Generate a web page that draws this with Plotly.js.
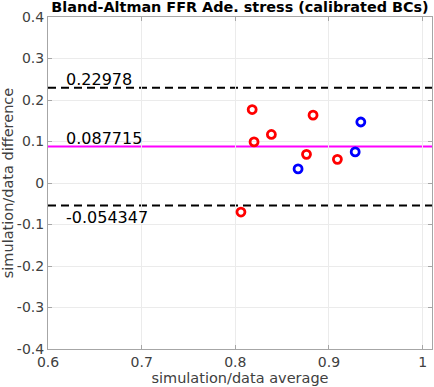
<!DOCTYPE html>
<html>
<head>
<meta charset="utf-8">
<script src="https://cdn.plot.ly/plotly-3.0.1.min.js"></script>
<style>
  html, body { margin: 0; padding: 0; background: #fff; }
  #chart { width: 434px; height: 387px; }
</style>
</head>
<body>
<div id="chart"></div>
<script>
const redAvg = [0.818, 0.820, 0.8385, 0.883, 0.876, 0.909, 0.806];
const redDiff = [0.177, 0.099, 0.117, 0.1635, 0.069, 0.057, -0.070];
const blueAvg = [0.867, 0.928, 0.934];
const blueDiff = [0.034, 0.075, 0.147];

const meanDiff = 0.087715;
const upperLoA = 0.22978;
const lowerLoA = -0.054347;

const xTicks = [0.6, 0.7, 0.8, 0.9, 1];
const xTickText = ['0.6', '0.7', '0.8', '0.9', '1'];
const yTicks = [-0.4, -0.3, -0.2, -0.1, 0, 0.1, 0.2, 0.3, 0.4];
const yTickText = ['-0.4', '-0.3', '-0.2', '-0.1', '0', '0.1', '0.2', '0.3', '0.4'];

const font = 'DejaVu Sans, sans-serif';

const markerStyle = color => ({
    symbol: 'circle-open',
    size: 8,
    color: color,
    line: { color: color, width: 2.8 }
});

const traces = [
    { x: redAvg, y: redDiff, type: 'scatter', mode: 'markers', marker: markerStyle('#ff0000'), hoverinfo: 'x+y' },
    { x: blueAvg, y: blueDiff, type: 'scatter', mode: 'markers', marker: markerStyle('#0000ff'), hoverinfo: 'x+y' }
];

const hline = (y, color, dash) => ({
    type: 'line', xref: 'x domain', yref: 'y',
    x0: 0, x1: 1, y0: y, y1: y,
    line: { color: color, width: 2, dash: dash },
    layer: 'below'
});

const label = (y, anchor) => ({
    x: 0.62, y: y, xref: 'x', yref: 'y',
    text: String(y), showarrow: false,
    xanchor: 'left', yanchor: anchor, xshift: -3,
    yshift: anchor === 'bottom' ? -3 : 0,
    font: { family: font, size: 16, color: '#000' }
});

const axisCommon = {
    showline: true, linecolor: '#a6a6a6', linewidth: 1, mirror: 'ticks',
    ticks: 'inside', ticklen: 4, tickcolor: '#a6a6a6',
    showgrid: true, gridcolor: '#ebebeb', gridwidth: 1,
    zeroline: false,
    tickfont: { family: font, size: 14, color: '#404040' }
};

const layout = {
    width: 434, height: 387,
    margin: { l: 48, r: 2, t: 17, b: 38 },
    paper_bgcolor: '#fff', plot_bgcolor: '#fff',
    showlegend: false,
    title: {
        text: '<b>Bland-Altman FFR Ade. stress (calibrated BCs)</b>',
        font: { family: font, size: 14.4, color: '#000' },
        x: 0.553, xanchor: 'center', y: 1, yanchor: 'top', pad: { t: 2 }
    },
    xaxis: Object.assign({}, axisCommon, {
        range: [0.6, 1.01], tickvals: xTicks, ticktext: xTickText,
        title: { text: 'simulation/data average', font: { family: font, size: 14.5, color: '#404040' }, standoff: 1 }
    }),
    yaxis: Object.assign({}, axisCommon, {
        range: [-0.4, 0.4], tickvals: yTicks, ticktext: yTickText,
        title: { text: 'simulation/data difference', font: { family: font, size: 14.5, color: '#404040' }, standoff: 2 }
    }),
    shapes: [
        hline(upperLoA, '#000', '8px,5px'),
        hline(lowerLoA, '#000', '8px,5px'),
        hline(meanDiff, '#ff00ff', 'solid')
    ],
    annotations: [
        label(upperLoA, 'bottom'),
        label(meanDiff, 'bottom'),
        label(lowerLoA, 'top')
    ]
};

Plotly.newPlot('chart', traces, layout, { displayModeBar: false, staticPlot: true });
</script>
</body>
</html>
